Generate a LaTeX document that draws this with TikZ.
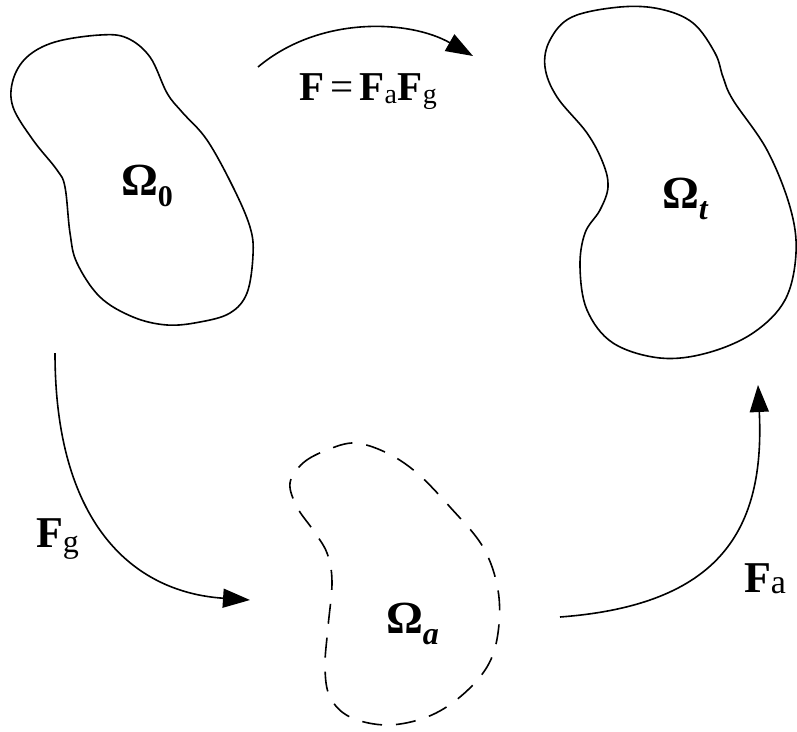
\documentclass[tikz,border=0pt]{standalone}
\usepackage{fontspec}
\setmainfont{Liberation Serif}
\usetikzlibrary{arrows.meta}
\tikzset{
  body/.style={line width=1.6pt, black},
  dbody/.style={line width=1.6pt, black, dash pattern=on 20pt off 14pt},
  conn/.style={line width=1.6pt, black, -{Triangle[length=27pt,width=19pt]}},
  lbl/.style={inner sep=0pt, outer sep=0pt, font=\fontsize{44}{50}\selectfont},
  toplbl/.style={inner sep=0pt, outer sep=0pt, font=\fontsize{41}{48}\selectfont},
  omg/.style={inner sep=0pt, outer sep=0pt, font=\fontsize{46}{52}\selectfont},
}
\newcommand{\mysub}[3]{\raisebox{-#1pt}{\fontsize{#2}{#2}\selectfont #3}}
\begin{document}
\begin{tikzpicture}[x=1pt,y=-1pt]
\useasboundingbox (0,0) rectangle (797,731);
% Omega_0
\draw[body] plot[smooth cycle, tension=0.6] coordinates {
 (100,35) (127,38) (150,57) (167,93) (182,112) (207,140) (233,187) (250,227)
 (253,255) (247,293) (230,313) (200,322) (167,325) (133,317) (100,297) (77,263)
 (70,233) (65,187) (57,170) (33,140) (13,107) (13,80) (27,57) (55,42)};
% Omega_t
\draw[body] plot[smooth cycle, tension=0.6] coordinates {
 (620,7) (572,17) (550,40) (545,67) (557,97) (587,133) (603,163) (608,187)
 (600,210) (585,233) (580,267) (587,310) (613,343) (660,358) (707,353) (753,333)
 (785,300) (796,253) (790,207) (767,150) (733,100) (723,77) (715,53) (693,23) (660,9)};
% Omega_a (dashed)
\draw[dbody] plot[smooth cycle, tension=0.6] coordinates {
 (290,483) (303,463) (327,450) (355,443) (387,453) (417,473) (450,507) (483,547)
 (498,590) (498,633) (487,667) (460,697) (427,717) (387,725) (350,717) (330,697)
 (325,667) (328,627) (332,582) (327,553) (313,530) (297,507)};
% labels
\node[omg, anchor=base west] (o0) at (121,195) {\bfseries Ω\mysub{11}{30}{0}};
\node[omg, anchor=base west] (ot) at (662,208) {\bfseries Ω\mysub{11}{32}{\itshape t}};
\node[omg, anchor=base west] (oa) at (386,633) {\bfseries Ω\mysub{11}{32}{\itshape a}};
\node[toplbl, anchor=base west] (fl) at (299,100) {\textbf{F}\hspace{0.15em}=\hspace{0.15em}\textbf{F}\mysub{3}{28}{a}\hspace{0.02em}\textbf{F}\mysub{3}{28}{g}};
\node[lbl, anchor=base west] (fgl) at (36,547) {\textbf{F}\mysub{5}{32}{g}};
\node[lbl, anchor=base west] (fal) at (744,592) {\textbf{F}\mysub{1}{34}{a}};
% arrows
\coordinate (a1s) at (258,67);
\coordinate (a1e) at (473,56);
\coordinate (a2s) at (55,353);
\coordinate (a2e) at (250,600);
\coordinate (a3s) at (560,617);
\coordinate (a3e) at (758,385);
\draw[conn] (a1s) .. controls (320,15) and (410,20) .. (a1e);
\draw[conn] (a2s) .. controls (55,520) and (130,592) .. (a2e);
\draw[conn] (a3s) .. controls (720,605) and (765,530) .. (a3e);
\end{tikzpicture}
\end{document}
